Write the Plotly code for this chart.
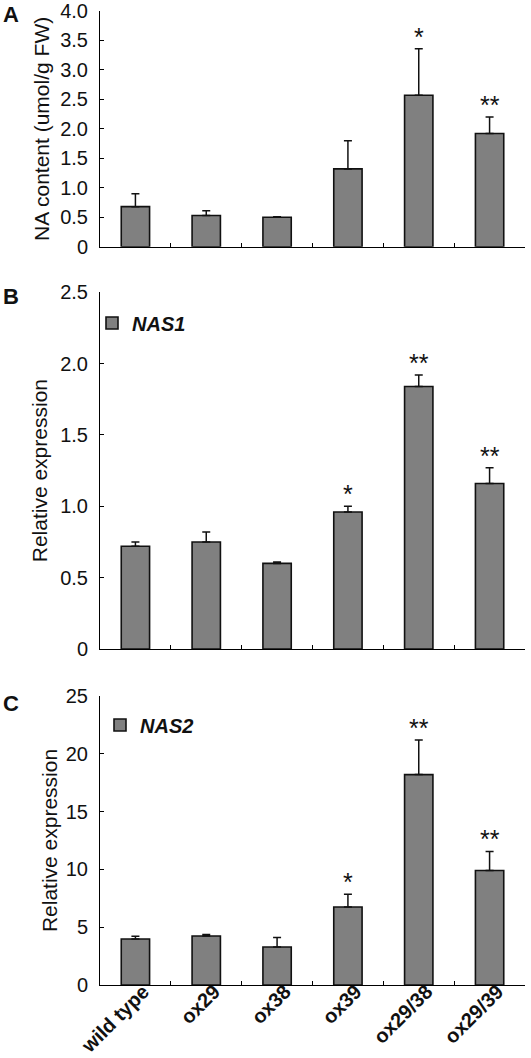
import plotly.graph_objects as go
from plotly.subplots import make_subplots

categories = ["wild type", "ox29", "ox38", "ox39", "ox29/38", "ox29/39"]

na_content = [0.68, 0.53, 0.50, 1.32, 2.57, 1.92]
na_err = [0.22, 0.08, 0.01, 0.48, 0.79, 0.28]
na_sig = ["", "", "", "", "*", "**"]

nas1_expr = [0.72, 0.75, 0.60, 0.96, 1.84, 1.16]
nas1_err = [0.03, 0.07, 0.01, 0.04, 0.08, 0.11]
nas1_sig = ["", "", "", "*", "**", "**"]

nas2_expr = [3.98, 4.24, 3.29, 6.75, 18.2, 9.9]
nas2_err = [0.24, 0.12, 0.81, 1.1, 3.0, 1.65]
nas2_sig = ["", "", "", "*", "**", "**"]

tick_a = [0, 0.5, 1.0, 1.5, 2.0, 2.5, 3.0, 3.5, 4.0]
tick_a_text = ["0", "0.5", "1.0", "1.5", "2.0", "2.5", "3.0", "3.5", "4.0"]
tick_b = [0, 0.5, 1.0, 1.5, 2.0, 2.5]
tick_b_text = ["0", "0.5", "1.0", "1.5", "2.0", "2.5"]
tick_c = [0, 5, 10, 15, 20, 25]
tick_c_text = ["0", "5", "10", "15", "20", "25"]

FONT = "Liberation Sans, Arial, sans-serif"
BAR_COLOR = "#808080"
W, H = 531, 1058
ML, MR, MT, MB = 100, 6, 11, 73
PH = H - MT - MB
PW = W - ML - MR


def py(px):
    return (H - MB - px) / PH


def pxx(px):
    return (px - ML) / PW


fig = make_subplots(rows=3, cols=1, shared_xaxes=False, vertical_spacing=0.05)

panels = [
    (na_content, na_err, na_sig, None, None),
    (nas1_expr, nas1_err, nas1_sig, "<b><i>NAS1</i></b>", "legend"),
    (nas2_expr, nas2_err, nas2_sig, "<b><i>NAS2</i></b>", "legend2"),
]

for i, (vals, errs, sigs, name, leg) in enumerate(panels, start=1):
    fig.add_trace(
        go.Bar(
            x=categories,
            y=vals,
            width=0.4,
            marker=dict(color=BAR_COLOR, line=dict(color="#111111", width=1.6)),
            error_y=dict(type="data", array=errs, arrayminus=[0] * len(errs),
                         symmetric=False, color="#111111", thickness=1.5, width=4),
            name=name if name else "",
            showlegend=name is not None,
            legend=leg if leg else "legend",
            hoverinfo="skip",
        ),
        row=i, col=1,
    )
    xref = "x" if i == 1 else f"x{i}"
    yref = "y" if i == 1 else f"y{i}"
    for c, v, e, s in zip(categories, vals, errs, sigs):
        if s:
            fig.add_annotation(x=c, y=v + e, xref=xref, yref=yref, text=s,
                               showarrow=False, yanchor="bottom", yshift=-4,
                               font=dict(family=FONT, size=25, color="#111111"))

domains = [(py(246.7), 1.0), (py(649), py(292.3)), (0.0, py(696))]
ranges = [(0, 4.0), (0, 2.5), (0, 25)]
ticks = [(tick_a, tick_a_text), (tick_b, tick_b_text), (tick_c, tick_c_text)]
titles = ["NA content (umol/g FW)", "Relative expression", "Relative expression"]
title_standoff = [4, 6, 2]

for i in range(3):
    fig.update_yaxes(
        row=i + 1, col=1,
        domain=list(domains[i]), range=list(ranges[i]),
        tickvals=ticks[i][0], ticktext=ticks[i][1],
        ticks="inside", ticklen=4, tickwidth=1, tickcolor="black",
        showline=True, linecolor="black", linewidth=1,
        showgrid=False, zeroline=False,
        tickfont=dict(family=FONT, size=20, color="#111111"),
        ticklabelstandoff=7,
        title=dict(text=titles[i], font=dict(family=FONT, size=21, color="#111111"),
                   standoff=title_standoff[i]),
    )
    fig.update_xaxes(
        row=i + 1, col=1,
        range=[-0.5, 5.5], type="category",
        tickson="boundaries",
        ticks="inside", ticklen=4, tickwidth=1, tickcolor="black",
        showline=True, linecolor="black", linewidth=1,
        showgrid=False, zeroline=False,
        showticklabels=(i == 2),
        tickangle=-45,
        ticklabelstandoff=-14,
        ticklabelshift=8,
        tickfont=dict(family=FONT, size=20, color="#111111", weight="bold"),
    )

for letter, ytop in [("A", 0), ("B", 282), ("C", 688.5)]:
    fig.add_annotation(text=f"<b>{letter}</b>", xref="paper", yref="paper",
                       x=pxx(1), y=py(ytop), xanchor="left", yanchor="top",
                       showarrow=False,
                       font=dict(family=FONT, size=22, color="#111111"))

leg_common = dict(xanchor="left", yanchor="middle", bgcolor="rgba(0,0,0,0)",
                  borderwidth=0, font=dict(family=FONT, size=20, color="#111111"),
                  itemclick=False)
fig.update_layout(
    legend=dict(x=pxx(92), y=py(323), **leg_common),
    legend2=dict(x=pxx(100), y=py(725), **leg_common),
)

fig.update_layout(
    width=W, height=H,
    margin=dict(l=ML, r=MR, t=MT, b=MB, autoexpand=False),
    plot_bgcolor="white", paper_bgcolor="white",
    bargap=0.6,
    font=dict(family=FONT, color="#111111"),
    hovermode=False,
)

fig.write_html(
    "out.html",
    config={"displayModeBar": False, "staticPlot": True},
    post_script="document.body.style.margin='0';document.body.style.padding='0';"
                "document.body.style.overflow='hidden';",
)
